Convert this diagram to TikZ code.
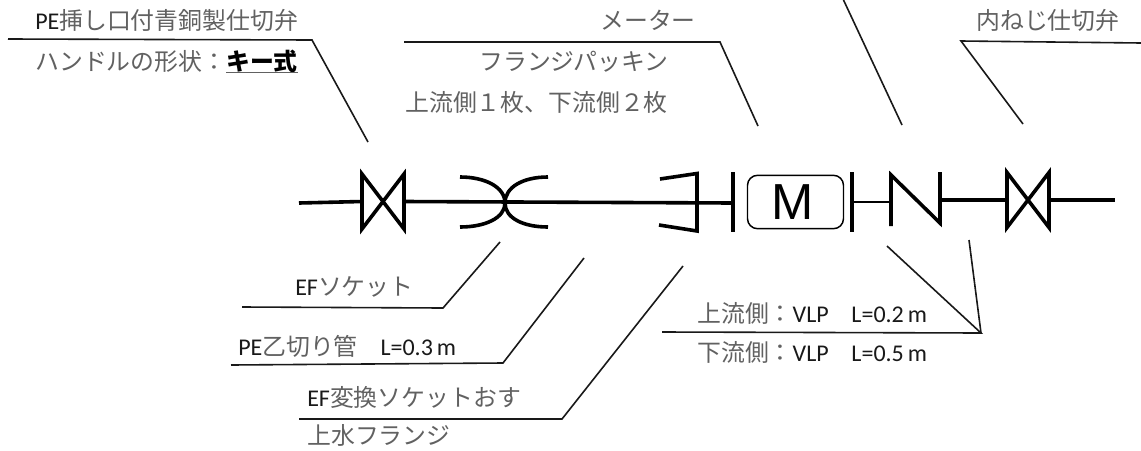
\documentclass[tikz,border=0pt]{standalone}
\usepackage{fontspec}
\setmainfont{Noto Sans CJK JP}
\newfontfamily\latfont{Carlito}
\newfontfamily\mfont{Liberation Sans}
\usetikzlibrary{positioning}
\newcommand*{\lat}[1]{{\latfont\fontsize{18}{20}\selectfont\color{black!90}#1}}
\tikzset{
    label text/.style = {black!62, font = \fontsize{17.9}{20}\selectfont, inner sep = 0pt, anchor = west},
    leader/.style = {black!90, line width = 1.2pt},
    pipe/.style = {black, line width = 2.7pt},
    symbol/.style = {black, line width = 2.7pt, line join = miter}
}

\begin{document}
\begin{tikzpicture}[x = 0.75pt, y = -0.75pt]
    \useasboundingbox (0,0) rectangle (1141,450);

    % pipe line, left to right
    \coordinate (start) at (299,203);
    \coordinate (flangeR) at (733,203);
    \coordinate (stop) at (1115,200);

    \begin{scope}[shift = {(383,201.5)}]
        \coordinate (valveA) at (0,0);
        \coordinate (valveAl) at (-21,0);
        \coordinate (valveAr) at (21,0);
        \draw[symbol] (-21,-27.5) -- (21,27.5) -- (21,-27.5) -- (-21,27.5) -- cycle;
    \end{scope}

    \begin{scope}[shift = {(1028,200)}]
        \coordinate (valveB) at (0,0);
        \coordinate (valveBl) at (-21,0);
        \coordinate (valveBr) at (21,0);
        \draw[symbol] (-21,-27.5) -- (21,27.5) -- (21,-27.5) -- (-21,27.5) -- cycle;
    \end{scope}

    \draw[pipe] (start) -- (valveAl);
    \draw[pipe] (valveAr) -- (flangeR);
    \draw[pipe] (941,200) -- (valveBl);
    \draw[pipe] (valveBr) -- (stop);

    % EF socket
    \draw[symbol] (460,177) .. controls (485,177) and (505,187) .. (505,203) .. controls (505,218) and (485,227) .. (460,227);
    \draw[symbol] (548,177) .. controls (523,177) and (505,187) .. (505,203) .. controls (505,218) and (523,227) .. (548,227);

    % flange
    \draw[symbol] (660,179) -- (697,173.5) -- (697,231) -- (659,225);
    \draw[symbol] (733,172) -- (733,232);

    % meter
    \node (meter) at (795.5,202) [draw, rounded corners = 7.5pt, line width = 1.1pt, minimum width = 72pt, minimum height = 40pt, inner sep = 0pt, font = \mfont\fontsize{38}{38}\selectfont] {M\kern4.5pt};

    % check valve
    \draw[symbol] (852,172) -- (852,232);
    \draw[pipe, line width = 1.9pt] (852,202) -- (891,202);
    \draw[symbol] (891,226) -- (891,175) -- (940,223) -- (940,172);

    % leaders above
    \coordinate (a1) at (8,39);
    \coordinate (a2) at (312,40);
    \coordinate (a3) at (368,142);
    \draw[leader] (a1) -- (a2) -- (a3);

    \coordinate (b1) at (404,42);
    \coordinate (b2) at (720,42);
    \coordinate (b3) at (758,126);
    \draw[leader] (b1) -- (b2) -- (b3);

    \coordinate (c1) at (843.5,0);
    \coordinate (c2) at (902,125);
    \draw[leader] (c1) -- (c2);

    \coordinate (d1) at (1141,43);
    \coordinate (d2) at (961,41);
    \coordinate (d3) at (1023,124);
    \draw[leader] (d1) -- (d2) -- (d3);

    % leaders below
    \coordinate (e1) at (242,307);
    \coordinate (e2) at (443,308);
    \coordinate (e3) at (500,242);
    \draw[leader] (e1) -- (e2) -- (e3);

    \coordinate (f1) at (231,365);
    \coordinate (f2) at (503,363);
    \coordinate (f3) at (584,258);
    \draw[leader] (f1) -- (f2) -- (f3);

    \coordinate (g1) at (299,419);
    \coordinate (g2) at (562,419);
    \coordinate (g3) at (683,266);
    \draw[leader] (g1) -- (g2) -- (g3);

    \coordinate (h1) at (662,332);
    \coordinate (h2) at (981,333);
    \coordinate (h3) at (887,246);
    \coordinate (h4) at (969,240);
    \draw[leader] (h1) -- (h2) -- (h3);
    \draw[leader] (h2) -- (h4);

    % texts
    \node (gateA) at (35,20) [label text] {\lat{PE}挿し口付青銅製仕切弁};
    \node (handle) at (35,62) [label text] {ハンドルの形状：\underline{\smash{\textcolor{black}{\textbf{キー式}}}}};
    \node (meterName) at (600,20) [label text] {メーター};
    \node (packing) at (479,62) [label text] {フランジパッキン};
    \node (count) at (405,102) [label text] {上流側１枚、下流側２枚};
    \node (gateB) at (976,20) [label text] {内ねじ仕切弁};
    \node (socket) at (295,287) [label text] {\lat{EF}ソケット};
    \node (tube) at (238,346) [label text] {\lat{PE}乙切り管\hspace{17pt}\lat{L=0.3\,m}};
    \node (reducer) at (307,397) [label text] {\lat{EF}変換ソケットおす};
    \node (flangeName) at (307,435) [label text] {上水フランジ};
    \node (upstream) at (697,313) [label text] {上流側：\lat{VLP\hspace{17pt}L=0.2\,m}};
    \node (downstream) at (697,352) [label text] {下流側：\lat{VLP\hspace{17pt}L=0.5\,m}};
\end{tikzpicture}
\end{document}
